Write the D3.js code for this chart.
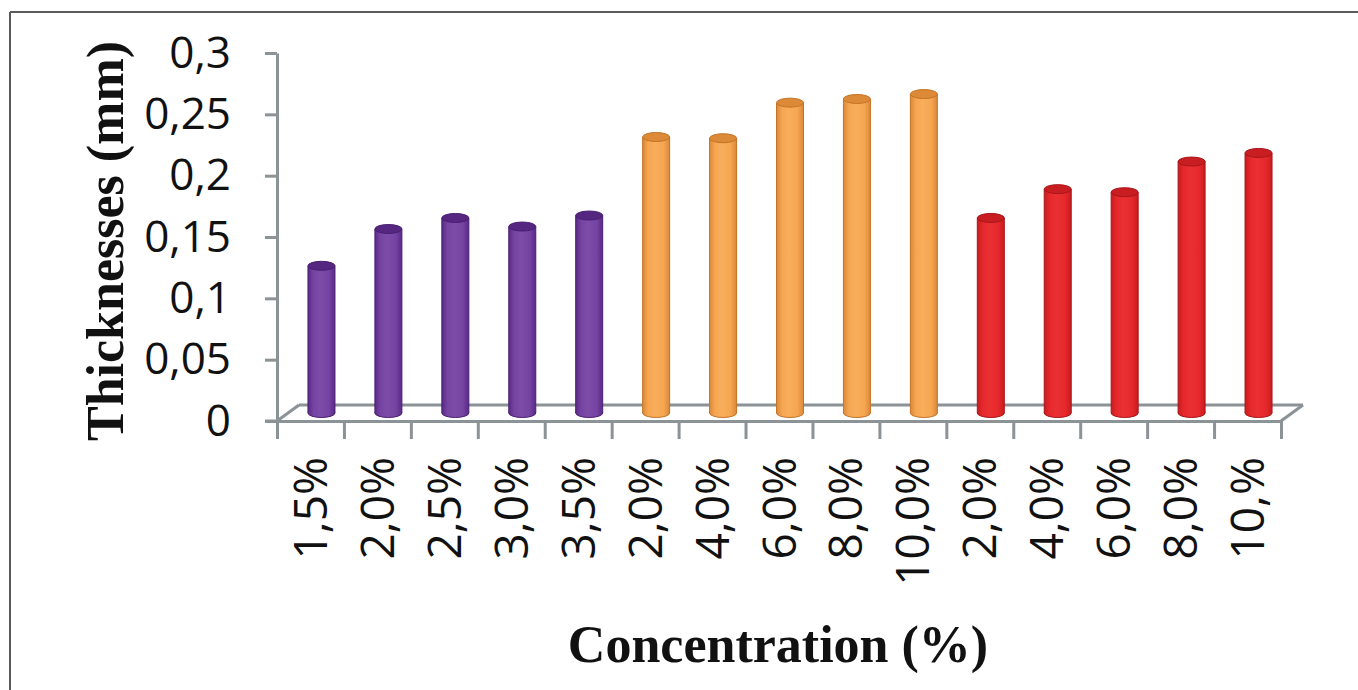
<!DOCTYPE html>
<html>
<head>
<meta charset="utf-8">
<script src="https://cdn.jsdelivr.net/npm/d3@7"></script>
<style>
  html, body { margin: 0; padding: 0; background: #fff; }
  svg { display: block; }
</style>
</head>
<body>
<svg id="chart" width="1358" height="690"></svg>
<script>
// Film thickness by concentration, three preparation groups
const labelsPurple = ["1,5%", "2,0%", "2,5%", "3,0%", "3,5%"];
const valuesPurple = [0.120, 0.150, 0.159, 0.152, 0.161];
const labelsOrange = ["2,0%", "4,0%", "6,0%", "8,0%", "10,0%"];
const valuesOrange = [0.225, 0.224, 0.253, 0.256, 0.260];
const labelsRed = ["2,0%", "4,0%", "6,0%", "8,0%", "10,%"];
const valuesRed = [0.159, 0.1825, 0.180, 0.205, 0.212];
const yTicks = [0, 0.05, 0.1, 0.15, 0.2, 0.25, 0.3];

const palettes = {
  purple: { edge: "#5a2a86", mid: "#7543a2", hi: "#7d4ca8", top: "#552781", line: "#4a1f72" },
  orange: { edge: "#d8883a", mid: "#f6a650", hi: "#f8ae5c", top: "#dc8a38", line: "#c57425" },
  red:    { edge: "#c61c20", mid: "#e6282b", hi: "#ea3033", top: "#c81d21", line: "#a9161a" }
};

const bars = []
  .concat(labelsPurple.map((l, i) => ({ label: l, value: valuesPurple[i], pal: "purple" })))
  .concat(labelsOrange.map((l, i) => ({ label: l, value: valuesOrange[i], pal: "orange" })))
  .concat(labelsRed.map((l, i) => ({ label: l, value: valuesRed[i], pal: "red" })));
bars.forEach((d, i) => d.idx = i);

const svg = d3.select("#chart");

// outer frame (top and left edges visible)
svg.append("line").attr("x1", 10).attr("y1", 12).attr("x2", 1358).attr("y2", 12)
  .attr("stroke", "#5a5a5a").attr("stroke-width", 2);
svg.append("line").attr("x1", 10).attr("y1", 12).attr("x2", 10).attr("y2", 690)
  .attr("stroke", "#5a5a5a").attr("stroke-width", 2);

// geometry of the 3D floor
const x0 = 277, x1 = 1281;
const depthX = 22, depthY = -16;
const axisColor = "#8b9397";

const xPos = d3.scaleLinear().domain([0, bars.length]).range([x0, x1]);
const xBand = d3.scaleBand().domain(d3.range(bars.length)).range([x0, x1]);
const y = d3.scaleLinear().domain([0, 0.3]).range([421, 53]);
const baseY = y(0);

// gradients for cylinder bodies
const defs = svg.append("defs");
Object.entries(palettes).forEach(([k, p]) => {
  const g = defs.append("linearGradient").attr("id", "grad-" + k)
    .attr("x1", "0%").attr("x2", "100%").attr("y1", "0%").attr("y2", "0%");
  g.append("stop").attr("offset", "0%").attr("stop-color", p.edge);
  g.append("stop").attr("offset", "20%").attr("stop-color", p.mid);
  g.append("stop").attr("offset", "45%").attr("stop-color", p.hi);
  g.append("stop").attr("offset", "78%").attr("stop-color", p.mid);
  g.append("stop").attr("offset", "100%").attr("stop-color", p.edge);
});

// floor: back edge and side edges
const floor = svg.append("g").attr("stroke", axisColor).attr("stroke-width", 3).attr("fill", "none");
floor.append("line").attr("x1", x0 + depthX).attr("y1", baseY + depthY)
  .attr("x2", x1 + depthX).attr("y2", baseY + depthY);
floor.append("line").attr("x1", x0).attr("y1", baseY).attr("x2", x0 + depthX).attr("y2", baseY + depthY);
floor.append("line").attr("x1", x1).attr("y1", baseY).attr("x2", x1 + depthX).attr("y2", baseY + depthY);

// y axis
const yAxis = svg.append("g").attr("transform", `translate(${x0},0)`)
  .call(d3.axisLeft(y).tickValues(yTicks).tickSizeInner(12).tickSizeOuter(0).tickPadding(34)
    .tickFormat(d => String(d).replace(".", ",")));
yAxis.select(".domain").attr("stroke", axisColor).attr("stroke-width", 3);
yAxis.selectAll(".tick line").attr("stroke", axisColor).attr("stroke-width", 3);
yAxis.selectAll(".tick text")
  .attr("font-family", "'Open Sans', sans-serif").attr("font-size", 44)
  .attr("fill", "#111");

// front edge of the floor with category ticks
const xAxis = svg.append("g").attr("transform", `translate(0,${baseY})`)
  .call(d3.axisBottom(xPos).tickValues(d3.range(bars.length + 1)).tickSizeInner(18)
    .tickSizeOuter(0).tickFormat(""));
xAxis.select(".domain").attr("stroke", axisColor).attr("stroke-width", 3);
xAxis.selectAll(".tick line").attr("stroke", axisColor).attr("stroke-width", 3);
svg.append("line").attr("x1", x0 - 12).attr("y1", baseY).attr("x2", x0).attr("y2", baseY)
  .attr("stroke", axisColor).attr("stroke-width", 3);

// category labels, rotated
svg.append("g").selectAll("text").data(bars).join("text")
  .attr("transform", d => `translate(${xBand(d.idx) + xBand.bandwidth() / 2},${baseY + 36}) rotate(-90)`)
  .attr("text-anchor", "end").attr("dy", "0.36em")
  .attr("font-family", "'Open Sans', sans-serif").attr("font-size", 46)
  .attr("fill", "#111")
  .text(d => d.label);

// cylinders, sitting mid-depth on the floor
const barW = 27, capH = 9;
const cx = d => xBand(d.idx) + xBand.bandwidth() / 2 + depthX / 2;
const midY = v => y(v) + depthY / 2;

const cyl = svg.append("g").selectAll("g").data(bars).join("g");
cyl.append("ellipse")
  .attr("cx", cx).attr("cy", midY(0)).attr("rx", barW / 2).attr("ry", capH / 2)
  .attr("fill", d => `url(#grad-${d.pal})`).attr("stroke", d => palettes[d.pal].line).attr("stroke-width", 1);
cyl.append("rect")
  .attr("x", d => cx(d) - barW / 2).attr("y", d => midY(d.value))
  .attr("width", barW).attr("height", d => midY(0) - midY(d.value))
  .attr("fill", d => `url(#grad-${d.pal})`);
cyl.append("line")
  .attr("x1", d => cx(d) - barW / 2).attr("x2", d => cx(d) - barW / 2)
  .attr("y1", d => midY(d.value)).attr("y2", midY(0))
  .attr("stroke", d => palettes[d.pal].line).attr("stroke-width", 1);
cyl.append("line")
  .attr("x1", d => cx(d) + barW / 2).attr("x2", d => cx(d) + barW / 2)
  .attr("y1", d => midY(d.value)).attr("y2", midY(0))
  .attr("stroke", d => palettes[d.pal].line).attr("stroke-width", 1);
cyl.append("ellipse")
  .attr("cx", cx).attr("cy", d => midY(d.value)).attr("rx", barW / 2).attr("ry", capH / 2)
  .attr("fill", d => palettes[d.pal].top).attr("stroke", d => palettes[d.pal].line).attr("stroke-width", 1);

// axis titles
svg.append("text")
  .attr("x", 778).attr("y", 662).attr("text-anchor", "middle")
  .attr("font-family", "'Liberation Serif', serif").attr("font-weight", "bold")
  .attr("font-size", 52).attr("fill", "#111")
  .text("Concentration (%)");
svg.append("text")
  .attr("transform", "translate(123,241) rotate(-90)").attr("text-anchor", "middle")
  .attr("font-family", "'Liberation Serif', serif").attr("font-weight", "bold")
  .attr("font-size", 52).attr("fill", "#111")
  .text("Thicknesses (mm)");
</script>
</body>
</html>
